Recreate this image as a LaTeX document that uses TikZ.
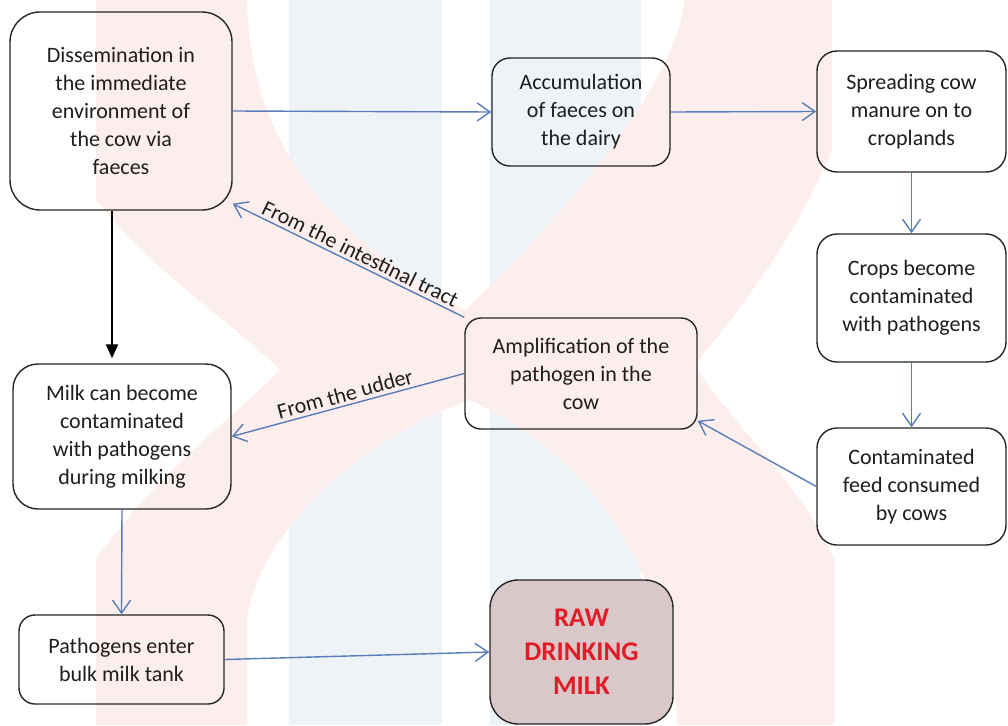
\documentclass[tikz,border=0pt]{standalone}
\usepackage{fontspec}
\setmainfont{Carlito}
\usetikzlibrary{arrows.meta}
\definecolor{wmpink}{RGB}{253,238,238}
\definecolor{wmblue}{RGB}{238,243,248}
\definecolor{conn}{RGB}{90,125,185}
\definecolor{rawfill}{RGB}{218,199,201}
\definecolor{rawtext}{RGB}{226,28,38}
\definecolor{txt}{RGB}{30,30,30}
\begin{document}
\begin{tikzpicture}[x=1pt,y=-1pt,
  flowbox/.style={draw=black!85, line width=1.4pt, align=center, text=txt,
    font=\fontsize{22}{28}\selectfont, inner sep=0pt},
  conarrow/.style={draw=conn, line width=1.4pt,
    -{Straight Barb[length=13pt,width=18pt,line width=1.4pt]}},
  mainarrow/.style={draw=black, line width=2.4pt,
    -{Triangle[length=14pt,width=12pt]}},
  lbl/.style={font=\fontsize{22}{26}\selectfont, text=txt, sloped, above, inner sep=3pt}]

% canvas
\fill[white] (0,0) rectangle (1008,725);
\useasboundingbox (0,0) rectangle (1008,725);

% faint watermark
\fill[wmblue] (289,0) rectangle (442,725);
\fill[wmblue] (490,0) rectangle (641,725);
\fill[wmpink] (96,0) -- (247,0)
  .. controls (250,170) and (360,250) .. (465,310)
  -- (470,400)
  .. controls (380,430) and (260,520) .. (247,620)
  -- (247,725) -- (96,725) -- (96,560)
  .. controls (150,480) and (230,420) .. (280,370)
  .. controls (230,320) and (150,270) .. (96,200) -- cycle;
\fill[wmpink] (684,0) -- (832,0) -- (832,150)
  .. controls (790,250) and (730,320) .. (695,365)
  .. controls (735,430) and (800,480) .. (834,560)
  -- (834,725) -- (677,725)
  .. controls (670,560) and (580,450) .. (470,400)
  -- (465,310)
  .. controls (560,220) and (680,80) .. (684,0) -- cycle;

% boxes
\node[flowbox, rounded corners=30pt, minimum width=222pt, minimum height=198pt] (diss) at (121,111)
  {Dissemination in\\the immediate\\environment of\\the cow via\\faeces};
\node[flowbox, rounded corners=18pt, minimum width=178pt, minimum height=108pt] (acc) at (581,112)
  {Accumulation\\of faeces on\\the dairy};
\node[flowbox, rounded corners=20pt, minimum width=189pt, minimum height=121pt] (spread) at (911.5,111.5)
  {Spreading cow\\manure on to\\croplands};
\node[flowbox, rounded corners=20pt, minimum width=189pt, minimum height=128pt] (crops) at (911.5,298)
  {Crops become\\contaminated\\with pathogens};
\node[flowbox, rounded corners=20pt, minimum width=189pt, minimum height=117pt] (cont) at (911.5,486.5)
  {Contaminated\\feed consumed\\by cows};
\node[flowbox, rounded corners=16pt, minimum width=232pt, minimum height=111pt] (amp) at (581,373.5)
  {Amplification of the\\pathogen in the\\cow};
\node[flowbox, rounded corners=25pt, minimum width=218pt, minimum height=145pt] (milk) at (122,436.5)
  {Milk can become\\contaminated\\with pathogens\\during milking};
\node[flowbox, rounded corners=16pt, minimum width=205pt, minimum height=89pt] (path) at (121.5,659.5)
  {Pathogens enter\\bulk milk tank};
\node[flowbox, fill=rawfill, rounded corners=28pt, minimum width=183pt, minimum height=144pt,
  text=rawtext, font=\bfseries\fontsize{27}{34}\selectfont] (raw) at (581.5,652)
  {RAW\\DRINKING\\MILK};

% connectors
\draw[conarrow] (diss.east) -- (acc.west);
\draw[conarrow] (acc.east) -- (spread.west);
\draw[conarrow] (spread.south) -- (crops.north);
\draw[conarrow] (crops.south) -- (cont.north);
\draw[conarrow] (cont.west) -- ([yshift=9pt]amp.south east);
\draw[conarrow] (amp.north west) -- node[lbl, pos=0.47] (ltract) {From the intestinal tract} ([yshift=7pt]diss.south east);
\draw[conarrow] (amp.west) -- node[lbl, pos=0.5] (ludder) {From the udder} (milk.east);
\draw[mainarrow, shorten >=5pt] ([xshift=-9pt]diss.south) -- ([xshift=-10pt]milk.north);
\draw[conarrow] (milk.south) -- (path.north);
\draw[conarrow] (path.east) -- (raw.west);
\end{tikzpicture}
\end{document}
